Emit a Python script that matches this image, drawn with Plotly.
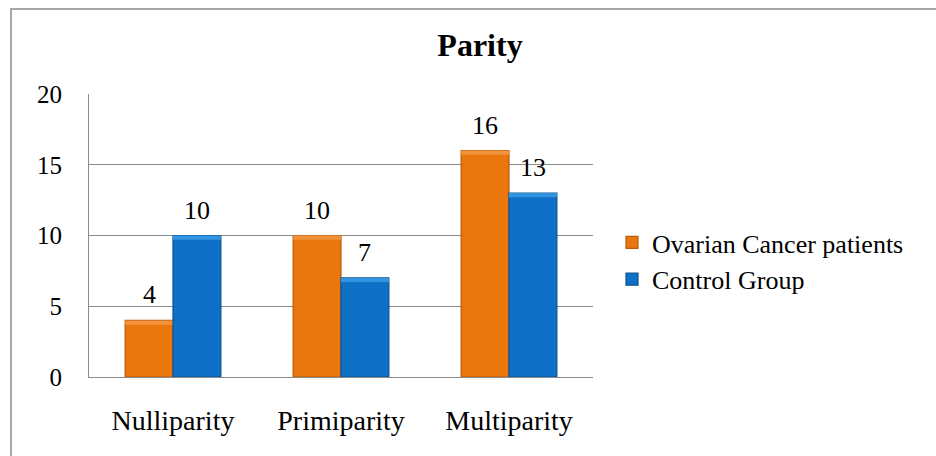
import plotly.graph_objects as go

# Parity distribution by group
categories = ["Nulliparity", "Primiparity", "Multiparity"]
ovarian_cancer = [4, 10, 16]
control_group = [10, 7, 13]
series_names = ["Ovarian Cancer patients", "Control Group"]
y_ticks = [0, 5, 10, 15, 20]

SERIF = "Liberation Serif"
ORANGE = "#EA760E"
ORANGE_EDGE = "#B8590A"
ORANGE_TOP = "#F2923A"
BLUE = "#0E70C6"
BLUE_EDGE = "#0A5292"
BLUE_TOP = "#3294E0"

W, H = 936, 456
L, R, T, B = 89, 343, 94, 79
BARGAP = 0.43
CAP = 0.3  # height of the light bevel strip on each bar top, in data units

fig = go.Figure()
for name, values, fill, edge, top, grp in (
    (series_names[0], ovarian_cancer, ORANGE, ORANGE_EDGE, ORANGE_TOP, "a"),
    (series_names[1], control_group, BLUE, BLUE_EDGE, BLUE_TOP, "b"),
):
    fig.add_trace(go.Bar(
        x=categories, y=values, name=name, offsetgroup=grp,
        marker=dict(color=fill, line=dict(color=edge, width=1.2)),
    ))
    # lighter strip along the top edge of each bar
    fig.add_trace(go.Bar(
        x=categories, y=[CAP] * len(values), base=[v - CAP for v in values],
        offsetgroup=grp, showlegend=False, hoverinfo="skip",
        marker=dict(color=top, line=dict(width=0)),
    ))

# value labels above each bar
plot_w = W - L - R
bar_w = plot_w / len(categories) * (1 - BARGAP) / 2
for values, shift in ((ovarian_cancer, -bar_w / 2), (control_group, bar_w / 2)):
    for cat, v in zip(categories, values):
        fig.add_annotation(
            x=cat, y=v, xref="x", yref="y", text=str(v), showarrow=False,
            xshift=shift, yshift=9, yanchor="bottom",
            font=dict(family=SERIF, size=26, color="black"),
        )

# chart frame
fig.add_shape(
    type="rect", xref="paper", yref="paper",
    x0=(11 - L) / plot_w, x1=(W + 10 - L) / plot_w,
    y0=-(B + 10) / (H - T - B), y1=(H - B - 9) / (H - T - B),
    line=dict(color="#A6A6A6", width=2), fillcolor="rgba(0,0,0,0)", layer="below",
)

fig.update_layout(
    width=W, height=H,
    margin=dict(l=L, r=R, t=T, b=B, pad=0),
    paper_bgcolor="white", plot_bgcolor="white",
    barmode="group", bargap=BARGAP, bargroupgap=0,
    font=dict(family=SERIF, color="black"),
    title=dict(
        text="<b>Parity</b>", x=(480 - L) / plot_w, xref="paper", xanchor="center",
        y=1 - 45 / H, yref="container", yanchor="middle",
        font=dict(family=SERIF, size=32, color="black"),
    ),
    showlegend=True,
    legend=dict(
        x=(612 - L) / plot_w, xanchor="left",
        y=(H - B - 219) / (H - T - B), yanchor="top",
        font=dict(family=SERIF, size=26, color="black"),
        bgcolor="rgba(0,0,0,0)", itemclick=False, traceorder="normal",
    ),
)
fig.update_xaxes(
    showgrid=False, showline=True, linecolor="#8C8C8C", linewidth=1,
    ticks="", tickfont=dict(family=SERIF, size=28, color="black"),
    ticklabelstandoff=18,
)
fig.update_yaxes(
    range=[0, 20], tickvals=y_ticks,
    showgrid=True, gridcolor="#8C8C8C", gridwidth=1,
    showline=True, linecolor="#8C8C8C", linewidth=1,
    zeroline=False, ticks="",
    tickfont=dict(family=SERIF, size=25, color="black"),
    ticklabelstandoff=21,
)

fig.write_html("out.html")
